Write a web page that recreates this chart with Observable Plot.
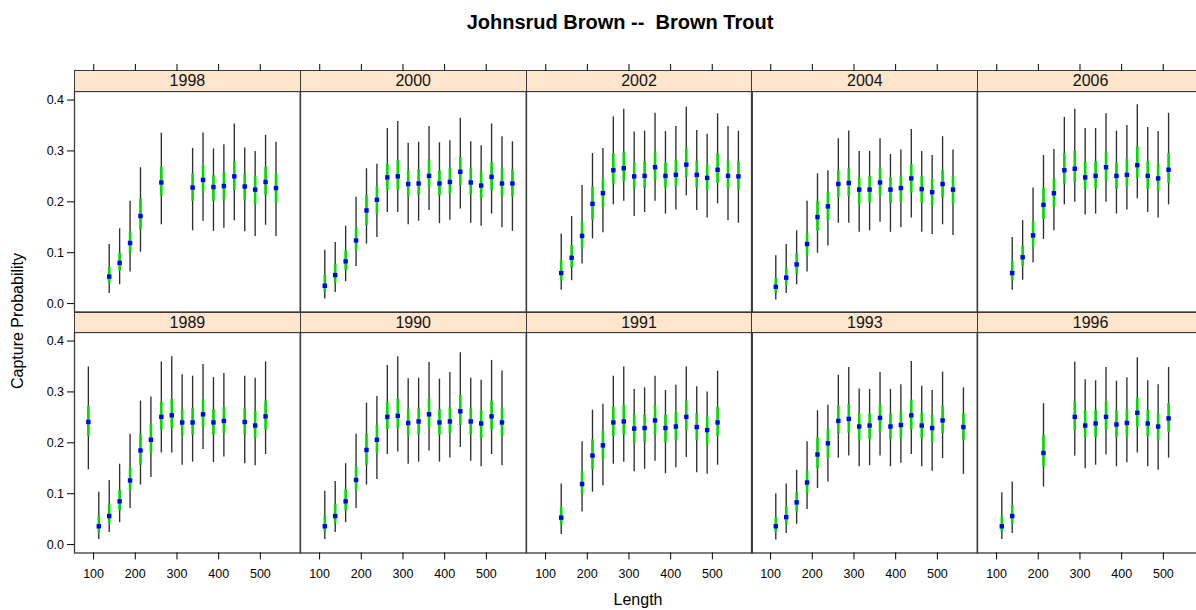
<!DOCTYPE html>
<html>
<head>
<meta charset="utf-8">
<script src="https://cdn.jsdelivr.net/npm/d3@7"></script>
<script src="https://cdn.jsdelivr.net/npm/@observablehq/plot@0.6"></script>
<style>
  html, body { margin: 0; padding: 0; background: #fff; overflow: hidden; }
  #root { position: relative; width: 1196px; height: 610px; overflow: hidden; font-family: "Liberation Sans", Arial, sans-serif; color: #000; }
  .title { position: absolute; left: 620px; top: 22px; transform: translate(-50%, -50%); font-weight: bold; font-size: 20px; white-space: pre; }
  .xlab { position: absolute; left: 638px; top: 600px; transform: translate(-50%, -50%); font-size: 16px; white-space: pre; }
  .ylab { position: absolute; left: 18px; top: 321px; transform: translate(-50%, -50%) rotate(-90deg); font-size: 16px; white-space: pre; }
  .strip { position: absolute; box-sizing: border-box; background: #ffe5cc; border: 1px solid #3a3a3a; text-align: center; font-size: 16px; color: #111; }
</style>
</head>
<body>
<div id="root"></div>
<script>
// Each row: [length, estimate, inner low, inner high, outer low, outer high]
const y1998 = [
  [137.5,.053,.039,.071,.020,.116],[162.5,.080,.064,.099,.037,.147],[187.5,.119,.098,.140,.062,.201],
  [212.5,.172,.145,.206,.101,.267],[262.5,.238,.211,.268,.155,.335],[337.5,.228,.201,.255,.143,.305],
  [362.5,.243,.217,.271,.162,.335],[387.5,.229,.201,.251,.142,.304],[412.5,.231,.204,.257,.148,.312],
  [437.5,.250,.222,.279,.163,.353],[462.5,.230,.202,.255,.141,.306],[487.5,.224,.194,.250,.132,.299],
  [512.5,.239,.212,.268,.154,.331],[537.5,.227,.197,.255,.132,.317]
];
const y2000 = [
  [112.5,.035,.022,.055,.009,.105],[137.5,.056,.040,.077,.022,.120],[162.5,.083,.065,.104,.043,.152],
  [187.5,.124,.103,.149,.073,.209],[212.5,.183,.153,.212,.117,.265],[237.5,.204,.175,.230,.130,.274],
  [262.5,.248,.222,.274,.179,.344],[287.5,.250,.223,.281,.179,.358],[312.5,.235,.210,.261,.155,.315],
  [337.5,.236,.212,.263,.162,.317],[362.5,.251,.227,.282,.183,.348],[387.5,.236,.212,.261,.157,.316],
  [412.5,.239,.215,.266,.164,.320],[437.5,.259,.231,.287,.186,.364],[462.5,.238,.213,.265,.158,.318],
  [487.5,.232,.206,.258,.152,.310],[512.5,.249,.222,.277,.176,.353],[537.5,.236,.209,.265,.149,.328],
  [562.5,.236,.209,.263,.142,.318]
];
const y2002 = [
  [137.5,.060,.044,.084,.026,.137],[162.5,.090,.070,.114,.045,.171],[187.5,.133,.109,.160,.078,.232],
  [212.5,.196,.164,.229,.127,.295],[237.5,.217,.189,.245,.139,.305],[262.5,.262,.235,.294,.194,.367],
  [287.5,.266,.240,.297,.201,.382],[312.5,.250,.225,.276,.171,.337],[337.5,.251,.227,.278,.179,.339],
  [362.5,.268,.242,.297,.201,.374],[387.5,.251,.227,.276,.176,.338],[412.5,.253,.230,.281,.184,.348],
  [437.5,.273,.248,.306,.212,.386],[462.5,.253,.227,.280,.183,.340],[487.5,.247,.222,.272,.168,.333],
  [512.5,.263,.236,.294,.196,.373],[537.5,.251,.225,.280,.163,.348],[562.5,.250,.223,.278,.158,.339]
];
const y2004 = [
  [112.5,.033,.020,.050,.007,.094],[137.5,.051,.035,.070,.020,.116],[162.5,.077,.057,.098,.037,.143],
  [187.5,.117,.094,.138,.062,.201],[212.5,.170,.142,.201,.099,.255],[237.5,.191,.163,.219,.113,.261],
  [262.5,.235,.208,.261,.158,.324],[287.5,.237,.210,.265,.158,.339],[312.5,.224,.194,.247,.140,.299],
  [337.5,.224,.197,.250,.143,.299],[362.5,.238,.211,.266,.160,.324],[387.5,.224,.196,.248,.140,.293],
  [412.5,.227,.199,.250,.149,.302],[437.5,.246,.217,.273,.168,.342],[462.5,.225,.197,.250,.140,.299],
  [487.5,.219,.191,.244,.136,.291],[512.5,.235,.208,.261,.155,.328],[537.5,.224,.194,.250,.134,.302]
];
const y2006 = [
  [137.5,.060,.045,.083,.026,.130],[162.5,.091,.073,.113,.046,.163],[187.5,.134,.111,.160,.080,.227],
  [212.5,.194,.165,.227,.126,.291],[237.5,.217,.189,.245,.143,.303],[262.5,.262,.235,.295,.194,.366],
  [287.5,.265,.238,.299,.199,.382],[312.5,.248,.224,.278,.174,.344],[337.5,.251,.225,.279,.176,.344],
  [362.5,.268,.240,.297,.199,.373],[387.5,.251,.225,.276,.176,.339],[412.5,.253,.229,.284,.184,.350],
  [437.5,.272,.246,.308,.206,.391],[462.5,.251,.225,.279,.179,.346],[487.5,.246,.221,.274,.168,.338],
  [512.5,.263,.236,.295,.194,.374]
];
const y1989 = [
  [87.5,.241,.213,.272,.147,.349],[112.5,.036,.023,.056,.010,.103],[137.5,.056,.041,.079,.024,.126],
  [162.5,.085,.066,.107,.043,.158],[187.5,.126,.105,.151,.071,.217],[212.5,.185,.156,.216,.117,.282],
  [237.5,.206,.179,.236,.132,.290],[262.5,.251,.225,.280,.180,.359],[287.5,.254,.228,.285,.180,.369],
  [312.5,.240,.213,.265,.156,.334],[337.5,.240,.215,.268,.162,.331],[362.5,.256,.230,.285,.187,.354],
  [387.5,.240,.215,.265,.161,.328],[412.5,.243,.218,.270,.172,.336],[462.5,.241,.215,.268,.159,.331],
  [487.5,.234,.208,.262,.155,.327],[512.5,.252,.225,.282,.177,.359]
];
const y1990 = [
  [112.5,.036,.024,.056,.010,.105],[137.5,.056,.041,.079,.024,.124],[162.5,.085,.066,.108,.043,.159],
  [187.5,.127,.105,.153,.071,.217],[212.5,.186,.156,.217,.117,.278],[237.5,.206,.179,.234,.128,.291],
  [262.5,.251,.226,.280,.177,.352],[287.5,.253,.228,.286,.182,.369],[312.5,.239,.213,.266,.158,.326],
  [337.5,.242,.215,.267,.162,.327],[362.5,.256,.229,.286,.184,.358],[387.5,.240,.215,.265,.162,.325],
  [412.5,.242,.218,.269,.170,.338],[437.5,.262,.234,.293,.191,.377],[462.5,.242,.215,.268,.164,.327],
  [487.5,.238,.208,.263,.153,.323],[512.5,.252,.225,.282,.177,.362],[537.5,.240,.212,.268,.155,.341]
];
const y1991 = [
  [137.5,.053,.038,.073,.020,.119],[187.5,.119,.098,.143,.064,.202],[212.5,.175,.147,.206,.103,.264],
  [237.5,.195,.167,.223,.115,.276],[262.5,.240,.213,.270,.158,.331],[287.5,.242,.215,.274,.162,.349],
  [312.5,.228,.198,.255,.143,.305],[337.5,.229,.200,.255,.148,.308],[362.5,.244,.216,.272,.164,.331],
  [387.5,.229,.200,.254,.139,.303],[412.5,.232,.205,.259,.151,.313],[437.5,.251,.223,.282,.171,.349],
  [462.5,.231,.205,.257,.141,.310],[487.5,.225,.195,.251,.138,.300],[512.5,.240,.213,.269,.156,.341]
];
const y1993 = [
  [112.5,.036,.024,.053,.009,.100],[137.5,.054,.038,.074,.022,.119],[162.5,.083,.064,.102,.040,.146],
  [187.5,.122,.100,.144,.069,.202],[212.5,.177,.149,.210,.110,.263],[237.5,.199,.169,.226,.123,.274],
  [262.5,.243,.217,.272,.170,.333],[287.5,.247,.219,.276,.174,.348],[312.5,.232,.205,.257,.153,.306],
  [337.5,.234,.206,.257,.155,.305],[362.5,.249,.221,.276,.174,.338],[387.5,.232,.206,.257,.153,.305],
  [412.5,.235,.208,.261,.160,.314],[437.5,.254,.225,.284,.177,.360],[462.5,.234,.208,.259,.153,.311],
  [487.5,.229,.200,.254,.144,.303],[512.5,.244,.218,.272,.169,.339],[562.5,.231,.204,.257,.138,.308]
];
const y1996 = [
  [112.5,.036,.024,.054,.010,.102],[137.5,.056,.040,.077,.022,.123],[212.5,.180,.153,.215,.113,.277],
  [287.5,.251,.223,.280,.174,.359],[312.5,.234,.210,.262,.149,.324],[337.5,.238,.210,.264,.156,.322],
  [362.5,.251,.225,.280,.176,.348],[387.5,.236,.210,.263,.153,.321],[412.5,.239,.213,.265,.161,.328],
  [437.5,.259,.230,.288,.180,.367],[462.5,.238,.212,.264,.153,.322],[487.5,.232,.204,.257,.146,.314],
  [512.5,.248,.221,.277,.170,.348]
];

const topRowYears = ["1998", "2000", "2002", "2004", "2006"];
const bottomRowYears = ["1989", "1990", "1991", "1993", "1996"];
const topRowData = [y1998, y2000, y2002, y2004, y2006];
const bottomRowData = [y1989, y1990, y1991, y1993, y1996];
const xTicks = [100, 200, 300, 400, 500];
const yTicks = [0, 0.1, 0.2, 0.3, 0.4];
const titleText = "Johnsrud Brown --  Brown Trout";
const xLabel = "Length";
const yLabel = "Capture Probability";

// layout (lattice-like)
const X_DOMAIN = [54.25, 595.75];
const Y_DOMAIN = [-0.0165, 0.4168];
const LEFT0 = 74, PW = 225.8, PH = 220.5, STRIP_H = 20.7;
const STRIP_TOP = [70.3, 311.5];
const FONT = "'Liberation Sans', Arial, sans-serif";

const root = document.getElementById("root");
function addDiv(cls, text, css) {
  const d = document.createElement("div");
  d.className = cls;
  d.textContent = text;
  if (css) Object.assign(d.style, css);
  root.appendChild(d);
  return d;
}
addDiv("title", titleText);
addDiv("xlab", xLabel);
addDiv("ylab", yLabel);

const baseStyle = { background: "transparent", overflow: "visible", fontFamily: FONT, fontSize: "12.5px", color: "#000" };

function panel(rows, r, c) {
  const ml = c === 0 ? 74 : 2, mr = 2, mt = 2, mb = r === 1 ? 40 : 2;
  const marks = [
    Plot.ruleX(rows, { x: d => d[0], y1: d => d[4], y2: d => d[5], stroke: "#2e2e2e", strokeWidth: 1.35 }),
    Plot.ruleX(rows, { x: d => d[0], y1: d => d[2], y2: d => d[3], stroke: "#00dc00", strokeWidth: 2.6 }),
    Plot.dot(rows, { x: d => d[0], y: d => d[1], symbol: "square", r: 2.5, fill: "#0000ff", stroke: "none" }),
    Plot.frame({ stroke: "#3a3a3a", strokeWidth: 1.3 })
  ];
  if (c === 0) marks.push(Plot.axisY({ ticks: yTicks, tickSize: 7, tickPadding: 3.5, tickFormat: d3.format(".1f"), label: null, fontSize: 12.5 }));
  if (r === 1) marks.push(Plot.axisX({ ticks: xTicks, tickSize: 7, tickPadding: 9, label: null, fontSize: 12.5 }));
  const svg = Plot.plot({
    width: PW + ml + mr, height: PH + mt + mb,
    marginLeft: ml, marginRight: mr, marginTop: mt, marginBottom: mb,
    x: r === 1 ? { domain: X_DOMAIN } : { domain: X_DOMAIN, axis: null },
    y: c === 0 ? { domain: Y_DOMAIN } : { domain: Y_DOMAIN, axis: null },
    style: baseStyle,
    marks
  });
  svg.style.position = "absolute";
  svg.style.left = (LEFT0 + c * PW - ml) + "px";
  svg.style.top = (STRIP_TOP[r] + STRIP_H - mt) + "px";
  svg.style.maxWidth = "none";
  root.appendChild(svg);
}

function strip(label, r, c) {
  addDiv("strip", label, {
    left: (LEFT0 + c * PW) + "px", top: STRIP_TOP[r] + "px",
    width: PW + 1 + "px", height: STRIP_H + 1 + "px", lineHeight: (STRIP_H - 1) + "px"
  });
}

function topTicks(c) {
  const svg = Plot.plot({
    width: PW + 4, height: 9,
    marginLeft: 2, marginRight: 2, marginTop: 8, marginBottom: 0,
    x: { domain: X_DOMAIN },
    style: baseStyle,
    marks: [Plot.axisX({ anchor: "top", ticks: xTicks, tickSize: 7, tickFormat: () => "", label: null })]
  });
  svg.style.position = "absolute";
  svg.style.left = (LEFT0 + c * PW - 2) + "px";
  svg.style.top = (STRIP_TOP[0] - 8) + "px";
  svg.style.maxWidth = "none";
  root.appendChild(svg);
}

for (let c = 0; c < 5; c++) {
  panel(topRowData[c], 0, c);
  panel(bottomRowData[c], 1, c);
}
for (let c = 0; c < 5; c++) {
  strip(topRowYears[c], 0, c);
  strip(bottomRowYears[c], 1, c);
  topTicks(c);
}
</script>
</body>
</html>
